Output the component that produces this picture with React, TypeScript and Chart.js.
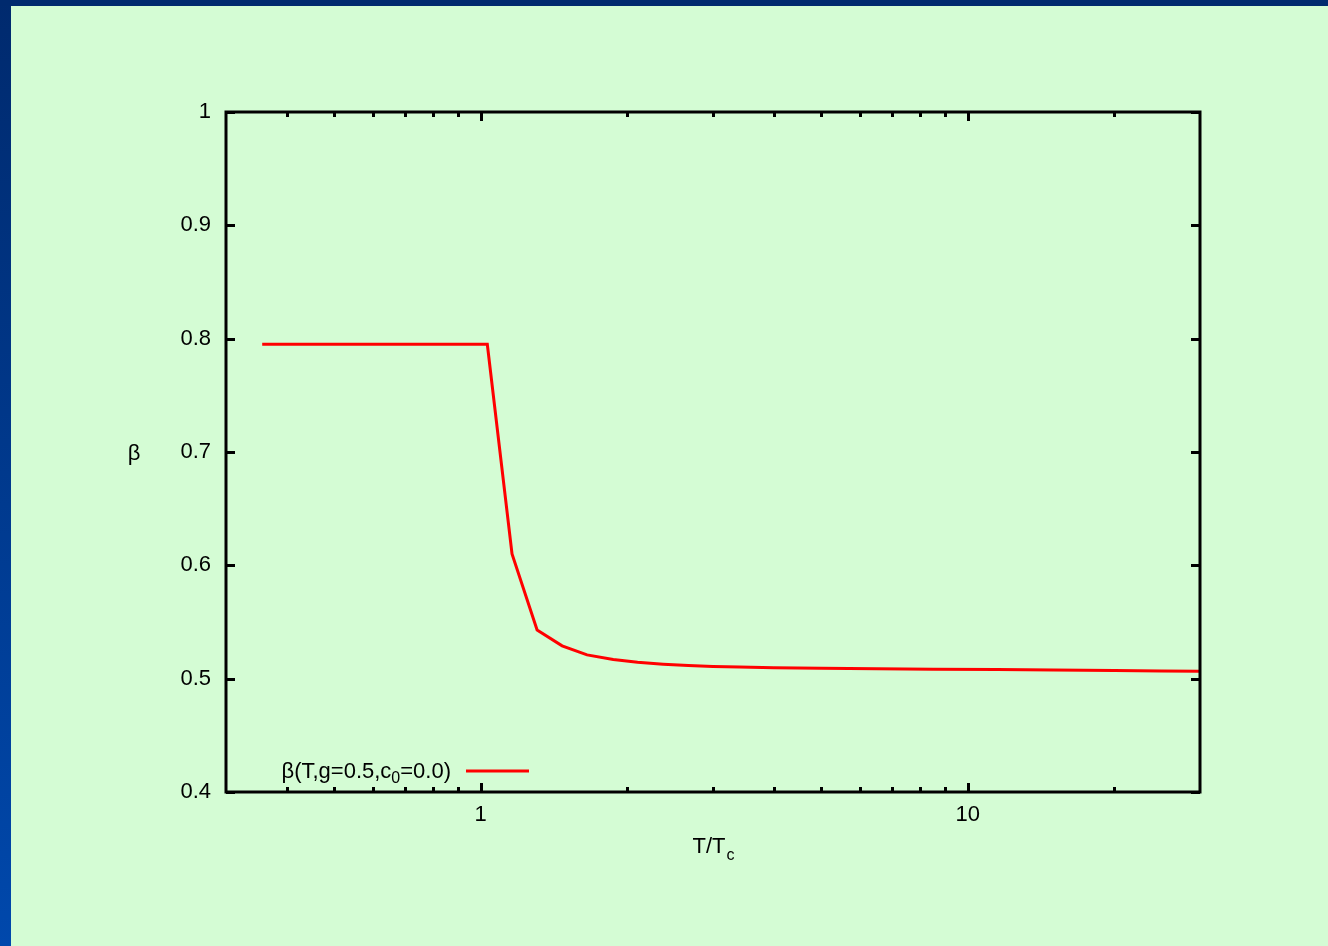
import React, { useEffect, useRef } from 'react';
import { Chart, registerables } from 'chart.js';

Chart.register(...registerables);

// ---- data ----
const T_VALUES = [0.356, 1.032, 1.16, 1.306, 1.47, 1.654, 1.872, 2.1, 2.37, 2.67, 3.0, 3.4, 4.0, 5.0, 6.5, 8.5, 11.5, 15, 20, 25, 30];
const BETA_VALUES = [0.795, 0.795, 0.61, 0.543, 0.529, 0.521, 0.517, 0.5145, 0.5128, 0.5116, 0.5108, 0.5102, 0.5097, 0.5092, 0.5087, 0.5083, 0.508, 0.5076, 0.5071, 0.5068, 0.5065];

const X_MIN = 0.3;
const X_MAX = 30;
const Y_MIN = 0.4;
const Y_MAX = 1;
const X_MAJOR_TICKS = [1, 10];
const X_MINOR_TICKS = [0.4, 0.5, 0.6, 0.7, 0.8, 0.9, 2, 3, 4, 5, 6, 7, 8, 9, 20];
const Y_TICKS = [0.4, 0.5, 0.6, 0.7, 0.8, 0.9, 1];
const Y_TICK_LABELS = ['0.4', '0.5', '0.6', '0.7', '0.8', '0.9', '1'];

const X_TITLE = 'T/T';
const X_TITLE_SUB = 'c';
const Y_TITLE = 'β';
const LEGEND_MAIN = 'β(T,g=0.5,c';
const LEGEND_SUB = '0';
const LEGEND_END = '=0.0)';

const FONT = '"Liberation Sans", Arial, Helvetica, sans-serif';
const FONT_SIZE = 22;
const SUB_SIZE = 16;

const framePlugin = {
  id: 'gnuframe',
  afterDraw(chart: any) {
    const { ctx, chartArea: a, scales } = chart;
    const xs = scales.x;
    const ys = scales.y;
    ctx.save();
    ctx.strokeStyle = '#000';
    ctx.lineWidth = 3;
    ctx.lineCap = 'butt';
    const seg = (x1: number, y1: number, x2: number, y2: number) => {
      ctx.beginPath();
      ctx.moveTo(x1, y1);
      ctx.lineTo(x2, y2);
      ctx.stroke();
    };
    xs.ticks.forEach((t: any) => {
      const px = Math.round(xs.getPixelForValue(t.value)) + 0.5;
      const len = t.major ? 9 : 5;
      seg(px, a.bottom, px, a.bottom - len);
      seg(px, a.top, px, a.top + len);
    });
    ys.ticks.forEach((t: any) => {
      const py = Math.round(ys.getPixelForValue(t.value)) + 0.5;
      seg(a.left, py, a.left + 9, py);
      seg(a.right, py, a.right - 9, py);
    });
    ctx.strokeRect(a.left, a.top, a.right - a.left, a.bottom - a.top);

    ctx.fillStyle = '#000';
    ctx.textBaseline = 'alphabetic';
    // y title
    ctx.font = `${FONT_SIZE}px ${FONT}`;
    ctx.textAlign = 'center';
    ctx.fillText(Y_TITLE, 134, (a.top + a.bottom) / 2 + 8);

    // x title with subscript
    const cx = (a.left + a.right) / 2;
    ctx.font = `${FONT_SIZE}px ${FONT}`;
    const wMain = ctx.measureText(X_TITLE).width;
    ctx.font = `${SUB_SIZE}px ${FONT}`;
    const wSub = ctx.measureText(X_TITLE_SUB).width;
    const startX = cx - (wMain + wSub) / 2;
    ctx.textAlign = 'left';
    ctx.font = `${FONT_SIZE}px ${FONT}`;
    ctx.fillText(X_TITLE, startX, 853);
    ctx.font = `${SUB_SIZE}px ${FONT}`;
    ctx.fillText(X_TITLE_SUB, startX + wMain + 1, 860);

    // legend
    const ds = chart.data.datasets[0];
    const legY = 771;
    const lineX1 = 466;
    const lineX2 = 529;
    ctx.strokeStyle = ds.borderColor;
    ctx.lineWidth = ds.borderWidth;
    seg(lineX1, legY, lineX2, legY);
    ctx.font = `${FONT_SIZE}px ${FONT}`;
    const w1 = ctx.measureText(LEGEND_MAIN).width;
    const w3 = ctx.measureText(LEGEND_END).width;
    ctx.font = `${SUB_SIZE}px ${FONT}`;
    const w2 = ctx.measureText(LEGEND_SUB).width;
    const textRight = 451;
    const tx = textRight - (w1 + w2 + w3);
    const base = 778;
    ctx.font = `${FONT_SIZE}px ${FONT}`;
    ctx.fillText(LEGEND_MAIN, tx, base);
    ctx.font = `${SUB_SIZE}px ${FONT}`;
    ctx.fillText(LEGEND_SUB, tx + w1, base + 5);
    ctx.font = `${FONT_SIZE}px ${FONT}`;
    ctx.fillText(LEGEND_END, tx + w1 + w2, base);
    ctx.restore();
  },
};

export default function App() {
  const canvasRef = useRef<HTMLCanvasElement | null>(null);

  useEffect(() => {
    const canvas = canvasRef.current;
    if (!canvas) return;
    const chart = new Chart(canvas, {
      type: 'line',
      data: {
        datasets: [
          {
            label: 'beta',
            data: T_VALUES.map((t, i) => ({ x: t, y: BETA_VALUES[i] })),
            borderColor: '#ff0000',
            borderWidth: 3,
            pointRadius: 0,
            tension: 0,
            fill: false,
          },
        ],
      },
      options: {
        animation: false,
        responsive: false,
        maintainAspectRatio: false,
        devicePixelRatio: 1,
        layout: { padding: { left: 0, top: 112, right: 128, bottom: 94 } },
        plugins: {
          legend: { display: false },
          tooltip: { enabled: false },
        },
        scales: {
          x: {
            type: 'logarithmic',
            min: X_MIN,
            max: X_MAX,
            grid: { display: false, drawTicks: false },
            border: { display: false },
            afterBuildTicks: (scale: any) => {
              const vals = [...X_MINOR_TICKS, ...X_MAJOR_TICKS].sort((a, b) => a - b);
              scale.ticks = vals.map((v) => ({ value: v, major: X_MAJOR_TICKS.includes(v) }));
            },
            afterFit: (scale: any) => {
              scale.height = 60;
            },
            ticks: {
              autoSkip: false,
              maxRotation: 0,
              minRotation: 0,
              padding: 10,
              color: '#000',
              font: { family: FONT, size: FONT_SIZE },
              callback: (value: any) => (X_MAJOR_TICKS.includes(Number(value)) ? String(value) : ''),
            },
          },
          y: {
            type: 'linear',
            min: Y_MIN,
            max: Y_MAX,
            grid: { display: false, drawTicks: false },
            border: { display: false },
            afterBuildTicks: (scale: any) => {
              scale.ticks = Y_TICKS.map((v) => ({ value: v }));
            },
            afterFit: (scale: any) => {
              scale.width = 226;
            },
            ticks: {
              padding: 15,
              color: '#000',
              font: { family: FONT, size: FONT_SIZE },
              callback: (_v: any, i: number) => Y_TICK_LABELS[i],
            },
          },
        },
      },
      plugins: [framePlugin],
    });
    return () => chart.destroy();
  }, []);

  return (
    <div
      style={{
        position: 'fixed',
        left: 0,
        top: 0,
        width: 1328,
        height: 946,
        background: 'linear-gradient(to bottom, #002a6e, #0048ac)',
        overflow: 'hidden',
      }}
    >
      <div
        style={{
          position: 'absolute',
          left: 0,
          top: 0,
          width: 1328,
          height: 6,
          background: '#002a6e',
        }}
      />
      <div
        style={{
          position: 'absolute',
          left: 11,
          top: 6,
          right: 0,
          bottom: 0,
          background: '#d4fcd4',
        }}
      />
      <canvas
        ref={canvasRef}
        width={1328}
        height={946}
        style={{ position: 'absolute', left: 0, top: 0, width: 1328, height: 946 }}
      />
    </div>
  );
}
